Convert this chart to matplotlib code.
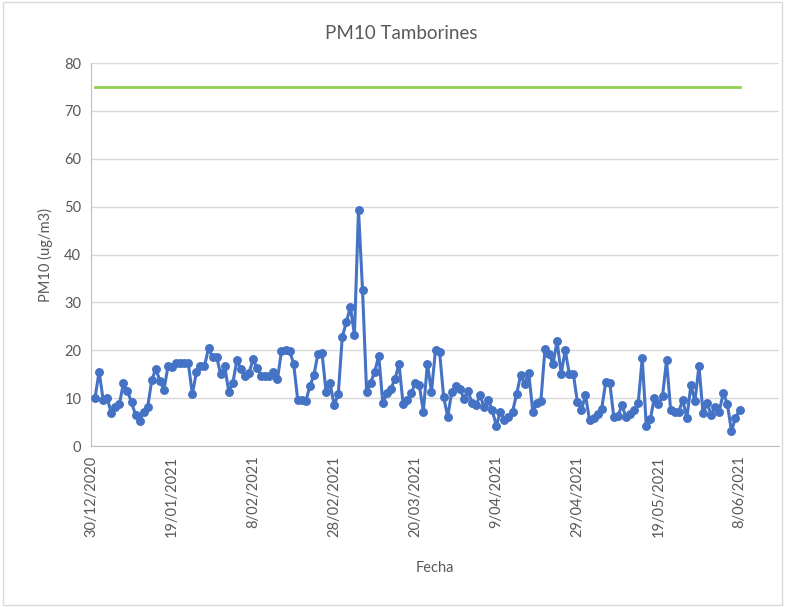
import matplotlib
matplotlib.use("Agg")
import matplotlib.pyplot as plt
from matplotlib.patches import Rectangle
import pandas as pd

plt.rcParams['font.family'] = ['Lato', 'DejaVu Sans']

# daily PM10 values, 31/12/2020 .. 8/06/2021
pm10 = [
    10.1, 15.5, 9.7, 10.0, 6.9, 8.2, 8.7, 13.1, 11.5, 9.1,
    6.5, 5.2, 7.2, 8.2, 13.8, 16.1, 13.6, 11.7, 16.7, 16.5,
    17.4, 17.4, 17.4, 17.4, 10.8, 15.4, 16.7, 16.7, 20.4, 18.6,
    18.6, 15.0, 16.7, 11.3, 13.2, 17.9, 16.1, 14.6, 15.3, 18.1,
    16.2, 14.7, 14.6, 14.6, 15.5, 13.9, 19.9, 20.0, 19.9, 17.2,
    9.7, 9.7, 9.4, 12.5, 14.8, 19.3, 19.4, 11.3, 13.1, 8.5,
    10.8, 22.8, 25.9, 29.0, 23.2, 49.3, 32.5, 11.3, 13.2, 15.5,
    18.9, 8.9, 11.0, 12.0, 14.0, 17.1, 8.8, 9.7, 11.0, 13.1,
    12.7, 7.2, 17.2, 11.3, 20.1, 19.7, 10.3, 6.1, 11.3, 12.5,
    12.0, 9.9, 11.5, 9.0, 8.5, 10.6, 8.1, 9.6, 7.5, 4.2,
    7.2, 5.4, 6.0, 7.2, 10.8, 14.8, 12.9, 15.3, 7.2, 8.9,
    9.4, 20.3, 19.2, 17.2, 21.9, 15.1, 20.0, 15.1, 15.1, 9.2,
    7.6, 10.6, 5.4, 5.8, 6.7, 7.8, 13.4, 13.1, 6.0, 6.3,
    8.5, 6.0, 6.7, 7.5, 8.9, 18.3, 4.2, 5.6, 10.1, 8.8,
    10.4, 17.9, 7.6, 7.2, 7.2, 9.6, 5.8, 12.7, 9.4, 16.7,
    6.8, 8.9, 6.5, 8.2, 7.2, 11.1, 8.8, 3.2, 5.8, 7.5,
]
limit = 75
start_date = '2020-12-31'
axis_start = '2020-12-30'
axis_end = '2021-06-17 18:00'
tick_step_days = 20

fechas = pd.date_range(start_date, periods=len(pm10), freq='D')
limite = [limit] * len(fechas)
ticks = pd.date_range(axis_start, fechas[-1], freq=f'{tick_step_days}D')
tick_labels = [f"{d.day}/{d.month:02d}/{d.year}" for d in ticks]

fig = plt.figure(figsize=(7.85, 6.07), dpi=100)
ax = fig.add_axes([0.1159, 0.2652, 0.8765, 0.631])

txt = '#595959'
ax.plot(fechas, limite, color='#92d050', lw=2.0, zorder=3)
ax.plot(fechas, pm10, color='#4472c4', lw=2.2, marker='o', ms=5.4,
        zorder=4)

ax.set_ylim(0, 80)
ax.set_yticks(range(0, 81, 10))
ax.set_xlim(pd.Timestamp(axis_start), pd.Timestamp(axis_end))
ax.set_xticks(ticks)
ax.set_xticklabels(tick_labels, rotation=90)
ax.grid(axis='y', color='#d9d9d9', lw=1)
ax.set_axisbelow(True)
for s in ['top', 'right']:
    ax.spines[s].set_visible(False)
for s in ['left', 'bottom']:
    ax.spines[s].set_color('#bfbfbf')
ax.tick_params(length=0, labelsize=10.5, colors=txt, pad=7)

# title sits over the whole chart, not the plot area
fig.text(0.511, 0.945, 'PM10 Tamborines', fontsize=13.5, color=txt,
         ha='center', va='center')
ax.set_ylabel('PM10 (ug/m3)', fontsize=10.5, color=txt, labelpad=8)
ax.set_xlabel('Fecha', fontsize=10.5, color=txt, labelpad=17)

# chart area frame
fig.patches.append(Rectangle((0.004, 0.003), 0.992, 0.994, transform=fig.transFigure,
                             fill=False, edgecolor='#d9d9d9', lw=1))

fig.savefig('out.png', dpi=100)
